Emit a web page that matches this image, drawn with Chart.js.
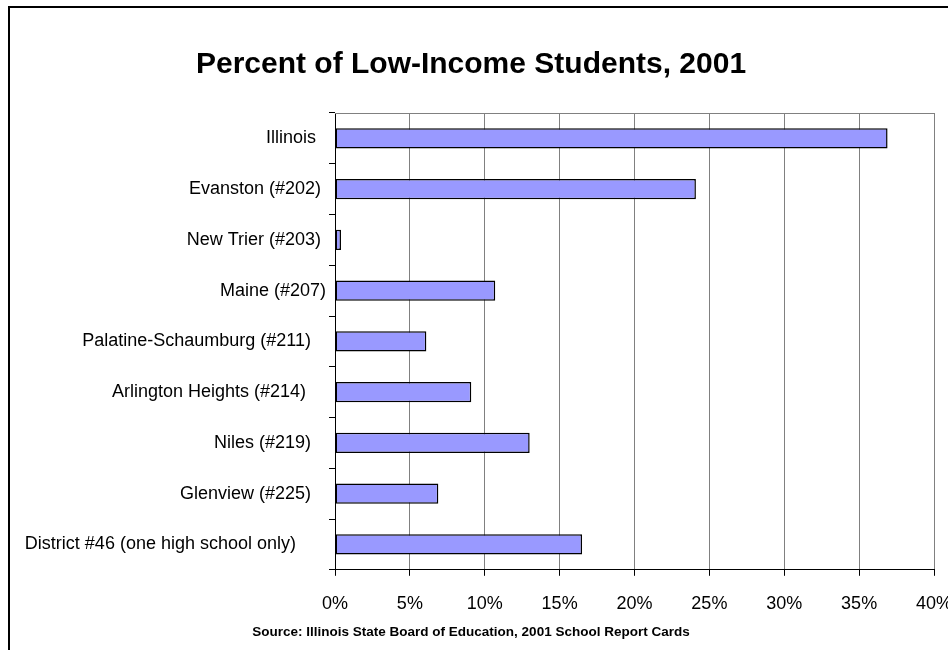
<!DOCTYPE html>
<html>
<head>
<meta charset="utf-8">
<script src="https://cdn.jsdelivr.net/npm/chart.js@4.4.1/dist/chart.umd.min.js"></script>
<style>
  html, body { margin: 0; padding: 0; background: #ffffff; }
  #wrap { position: relative; width: 948px; height: 650px; }
</style>
</head>
<body>
<div id="wrap"><canvas id="c" width="948" height="650"></canvas></div>
<script>
// ---- data ----
const categories = [
  "Illinois  ",
  "Evanston (#202) ",
  "New Trier (#203) ",
  "Maine (#207)",
  "Palatine-Schaumburg (#211)   ",
  "Arlington Heights (#214)    ",
  "Niles (#219)   ",
  "Glenview (#225)   ",
  "District #46 (one high school only)      "
];
const lowIncomePct = [36.9, 24.1, 0.4, 10.7, 6.1, 9.1, 13.0, 6.9, 16.5];
const xTickValues = [0, 5, 10, 15, 20, 25, 30, 35, 40];
const titleText = "Percent of Low-Income Students, 2001";
const sourceText = "Source: Illinois State Board of Education, 2001 School Report Cards";

const FONT = "Arial, 'Liberation Sans', Helvetica, sans-serif";

const framePlugin = {
  id: 'frame',
  beforeDraw(chart) {
    const ctx = chart.ctx;
    ctx.save();
    ctx.fillStyle = '#ffffff';
    ctx.fillRect(0, 0, chart.width, chart.height);
    ctx.strokeStyle = '#000000';
    ctx.lineWidth = 2;
    ctx.strokeRect(9, 7, 1200, 1200);
    ctx.restore();
  },
  beforeDatasetsDraw(chart) {
    const a = chart.chartArea;
    const ctx = chart.ctx;
    ctx.save();
    ctx.strokeStyle = '#808080';
    ctx.lineWidth = 1;
    ctx.beginPath();
    ctx.moveTo(a.left, a.top + 0.5);
    ctx.lineTo(a.right, a.top + 0.5);
    ctx.stroke();
    ctx.restore();
  }
};

new Chart(document.getElementById('c'), {
  type: 'bar',
  data: {
    labels: categories,
    datasets: [{
      data: lowIncomePct,
      backgroundColor: '#9999FF',
      borderColor: '#000000',
      borderWidth: 1.5,
      borderSkipped: false,
      barPercentage: 0.4,
      categoryPercentage: 1.0
    }]
  },
  options: {
    indexAxis: 'y',
    responsive: false,
    animation: false,
    devicePixelRatio: 1,
    layout: { padding: { left: 8, right: 14, top: 0, bottom: 0 } },
    plugins: {
      legend: { display: false },
      tooltip: { enabled: false },
      title: {
        display: true,
        text: titleText,
        color: '#000000',
        font: { family: FONT, size: 30, weight: 'bold' },
        padding: { top: 47, bottom: 30 }
      },
      subtitle: {
        display: true,
        position: 'bottom',
        text: sourceText,
        color: '#000000',
        font: { family: FONT, size: 13.5, weight: 'bold' },
        padding: { top: 0, bottom: 10 }
      }
    },
    scales: {
      x: {
        type: 'linear',
        min: 0,
        max: 40,
        afterBuildTicks(scale) { scale.ticks = xTickValues.map(v => ({ value: v })); },
        afterFit(scale) { scale.height = 54; scale.paddingRight = 0; },
        ticks: {
          color: '#000000',
          font: { family: FONT, size: 18 },
          padding: 17,
          callback: (v) => v + '%'
        },
        grid: {
          color: '#808080',
          lineWidth: 1,
          tickColor: '#000000',
          tickLength: 6,
          drawTicks: true
        },
        border: { color: '#000000', width: 1 }
      },
      y: {
        type: 'category',
        afterFit(scale) { scale.width = 327; },
        ticks: {
          color: '#000000',
          font: { family: FONT, size: 18 },
          padding: 3,
          autoSkip: false
        },
        grid: {
          offset: true,
          drawOnChartArea: false,
          drawTicks: true,
          tickLength: 6,
          color: '#000000',
          tickColor: '#000000'
        },
        border: { color: '#000000', width: 1 }
      }
    }
  },
  plugins: [framePlugin]
});
</script>
</body>
</html>
